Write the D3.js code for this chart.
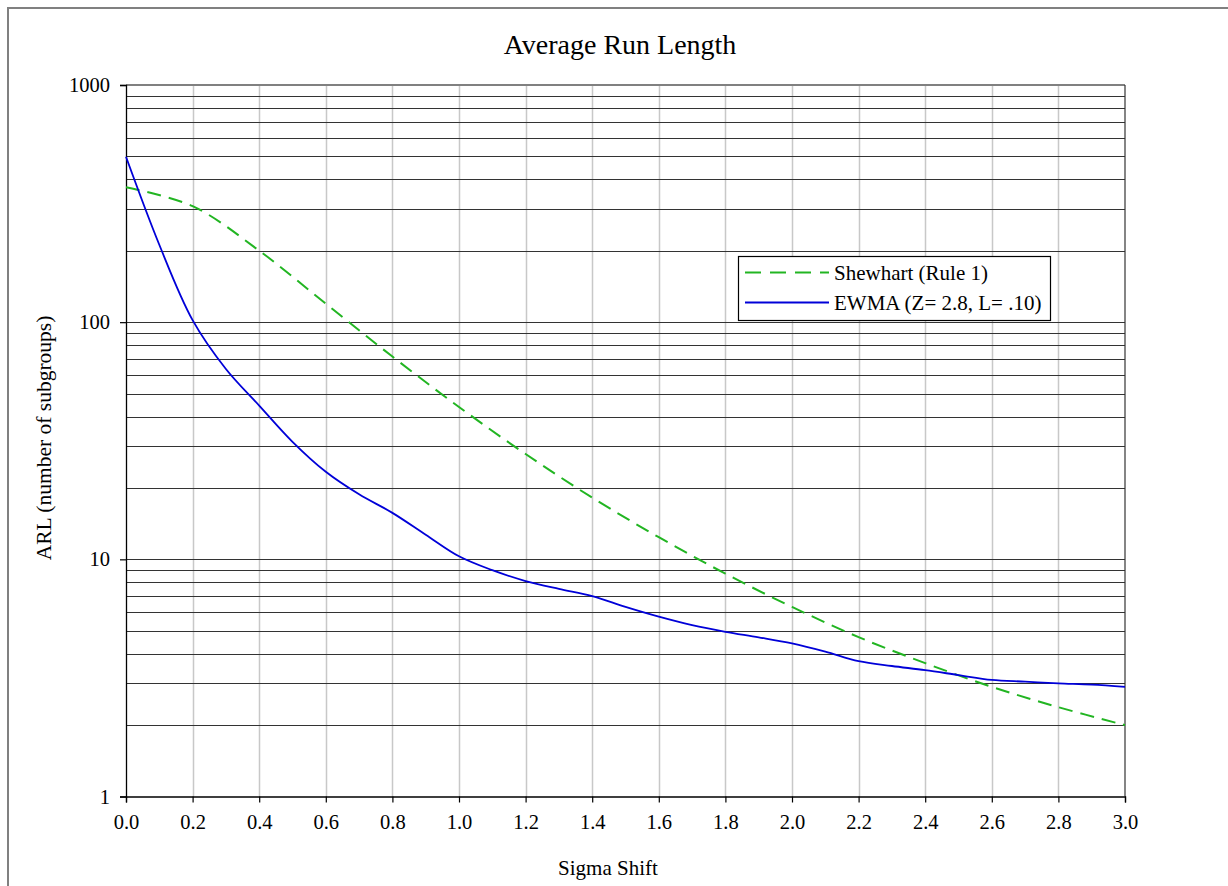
<!DOCTYPE html>
<html><head><meta charset="utf-8">
<script src="https://cdn.jsdelivr.net/npm/d3@7"></script>
<style>body{margin:0;background:#fff}svg{display:block}text{font-family:"Liberation Serif","Times New Roman",serif;fill:#000}</style>
</head><body>
<script>
const shiftsShewhart = [0.0,0.2,0.4,0.6,0.8,1.0,1.2,1.4,1.6,1.8,2.0,2.2,2.4,2.6,2.8,3.0];
const arlShewhart = [370.4,308.4,200.1,119.7,71.6,43.9,27.8,18.2,12.4,8.7,6.3,4.7,3.65,2.9,2.38,2.0];
const shiftsEwma = [0.0,0.1,0.2,0.3,0.4,0.5,0.6,0.7,0.8,0.9,1.0,1.1,1.2,1.3,1.4,1.5,1.6,1.7,1.8,1.9,2.0,2.1,2.2,2.3,2.4,2.5,2.6,2.7,2.8,2.9,3.0];
const arlEwma = [498,212,102,63.5,44.5,31.3,23.4,18.8,15.7,12.7,10.3,9.0,8.1,7.5,7.0,6.3,5.73,5.28,4.95,4.69,4.42,4.08,3.72,3.55,3.41,3.25,3.10,3.05,3.0,2.96,2.90];
const xTicks = [0.0,0.2,0.4,0.6,0.8,1.0,1.2,1.4,1.6,1.8,2.0,2.2,2.4,2.6,2.8,3.0];
const yMajor = [1,10,100,1000];
const seriesNames = ["Shewhart (Rule 1)","EWMA (Z= 2.8, L= .10)"];
const titleText = "Average Run Length";
const xLabel = "Sigma Shift";
const yLabel = "ARL (number of subgroups)";

const W=1228,H=886;
const L=126,R=1125,T=85,B=796.5;
const svg=d3.select("body").append("svg").attr("width",W).attr("height",H);
svg.append("rect").attr("x",8).attr("y",8).attr("width",1240).attr("height",900).attr("fill","#fff").attr("stroke","#808080").attr("stroke-width",2);

const x=d3.scaleLinear().domain([0,3]).range([L,R]);
const y=d3.scaleLog().domain([1,1000]).range([B,T]);

const minor=[];
[1,10,100].forEach(d=>{for(let k=2;k<=9;k++)minor.push(d*k);});
const g=svg.append("g");
g.selectAll(".vg").data(xTicks.slice(1,-1)).join("line")
 .attr("x1",d=>Math.round(x(d))+0.5).attr("x2",d=>Math.round(x(d))+0.5)
 .attr("y1",T).attr("y2",B).attr("stroke","#c8c8c8").attr("stroke-width",1.5);
g.selectAll(".hg").data(minor.concat([10,100])).join("line")
 .attr("x1",L).attr("x2",R).attr("y1",d=>Math.round(y(d))+0.5).attr("y2",d=>Math.round(y(d))+0.5)
 .attr("stroke","#333").attr("stroke-width",1.2);
g.append("line").attr("x1",L).attr("x2",R).attr("y1",T).attr("y2",T).attr("stroke","#808080").attr("stroke-width",2);
g.append("line").attr("x1",R).attr("x2",R).attr("y1",T).attr("y2",B).attr("stroke","#333").attr("stroke-width",1.2);

const xAxis=d3.axisBottom(x).tickValues(xTicks).tickFormat(d3.format(".1f")).tickSize(6).tickPadding(12);
const xa=svg.append("g").attr("transform",`translate(0,${B})`).call(xAxis);
xa.select(".domain").attr("stroke","#000").attr("stroke-width",1.3);
xa.selectAll(".tick line").attr("stroke","#000").attr("stroke-width",1.2);
xa.selectAll("text").style("font-family","Liberation Serif").style("font-size","20.5px").attr("fill","#000");

const yAxis=d3.axisLeft(y).tickValues(yMajor).tickFormat(d3.format("d")).tickSize(6).tickPadding(10);
const ya=svg.append("g").attr("transform",`translate(${L},0)`).call(yAxis);
ya.select(".domain").attr("stroke","#000").attr("stroke-width",1.3);
ya.selectAll(".tick line").attr("stroke","#000").attr("stroke-width",1.2);
ya.selectAll("text").style("font-family","Liberation Serif").style("font-size","20.5px").attr("fill","#000");

const lineS=d3.line().x((d,i)=>x(shiftsShewhart[i])).y(d=>y(d)).curve(d3.curveCatmullRom.alpha(0.5));
const lineE=d3.line().x((d,i)=>x(shiftsEwma[i])).y(d=>y(d)).curve(d3.curveCatmullRom.alpha(0.5));
svg.append("path").attr("d",lineS(arlShewhart)).attr("fill","none").attr("stroke","#22b522").attr("stroke-width",2).attr("stroke-dasharray","14,8");
svg.append("path").attr("d",lineE(arlEwma)).attr("fill","none").attr("stroke","#0000d8").attr("stroke-width",1.8);

const lg=svg.append("g");
lg.append("rect").attr("x",738.5).attr("y",256.5).attr("width",312).attr("height",64).attr("fill","#fff").attr("stroke","#000").attr("stroke-width",1.2);
lg.append("line").attr("x1",745).attr("x2",829).attr("y1",272.5).attr("y2",272.5).attr("stroke","#22b522").attr("stroke-width",2).attr("stroke-dasharray","16,9");
lg.append("line").attr("x1",745).attr("x2",829).attr("y1",302.5).attr("y2",302.5).attr("stroke","#0000d8").attr("stroke-width",1.8);
lg.append("text").attr("x",834).attr("y",279.5).style("font-size","21px").text(seriesNames[0]);
lg.append("text").attr("x",834).attr("y",309.5).style("font-size","21px").text(seriesNames[1]);

svg.append("text").attr("x",620).attr("y",54).attr("text-anchor","middle").style("font-size","28px").text(titleText);
svg.append("text").attr("x",608).attr("y",875).attr("text-anchor","middle").style("font-size","21px").text(xLabel);
svg.append("text").attr("transform","translate(51,438) rotate(-90)").attr("text-anchor","middle").style("font-size","21.5px").text(yLabel);
</script>
</body></html>
